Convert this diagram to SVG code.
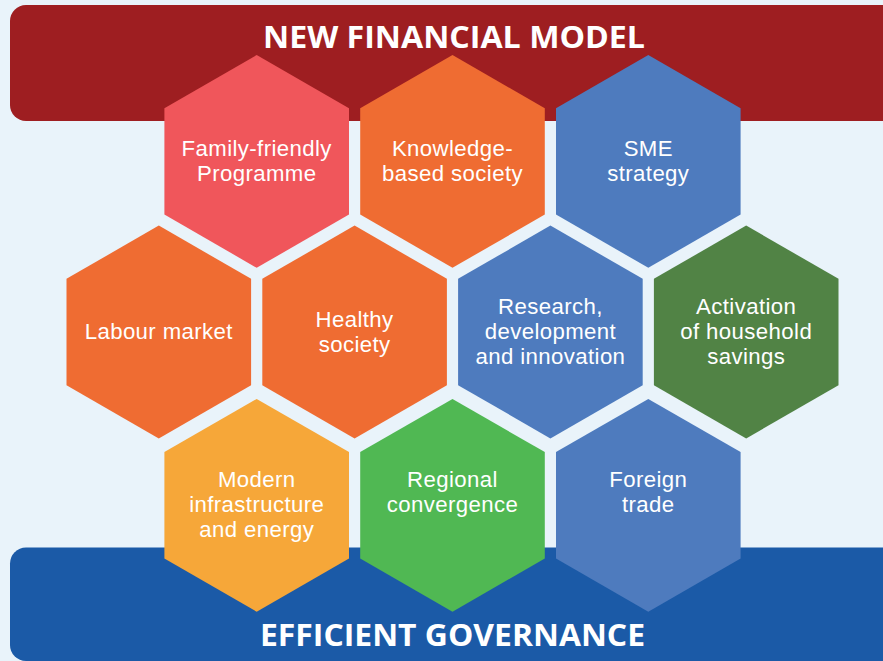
<svg xmlns="http://www.w3.org/2000/svg" width="883" height="661" viewBox="0 0 883 661">
<style>
.hx{font-family:"Liberation Sans",Arial,sans-serif;font-size:22.2px;letter-spacing:0.4px;fill:#ffffff;text-anchor:middle}
.ttl{font-family:"Open Sans","Liberation Sans",sans-serif;font-size:31px;font-weight:bold;fill:#ffffff;text-anchor:middle}
</style>
<defs>
<polygon id="hex" points="0,-106.4 92.3,-53.2 92.3,53.2 0,106.4 -92.3,53.2 -92.3,-53.2"/>
</defs>
<rect x="0" y="0" width="883" height="661" fill="#e9f3fa"/>
<g id="banner-top">
<rect x="10" y="5" width="890" height="116" rx="16" fill="#9e1e21"/>
<text class="ttl" x="454" y="48" textLength="382" lengthAdjust="spacingAndGlyphs">NEW FINANCIAL MODEL</text>
</g>
<g id="banner-bottom">
<rect x="10" y="547.5" width="890" height="113.5" rx="16" fill="#1b5aa7"/>
</g>
<g id="family">
<use href="#hex" transform="translate(256.7,161.4)" fill="#f0565b"/>
<text class="hx" x="256.7" y="156">Family-friendly<tspan x="256.7" dy="25">Programme</tspan></text>
</g>
<g id="knowledge">
<use href="#hex" transform="translate(452.5,161.4)" fill="#ef6c32"/>
<text class="hx" x="452.5" y="156">Knowledge-<tspan x="452.5" dy="25">based society</tspan></text>
</g>
<g id="sme">
<use href="#hex" transform="translate(648.3,161.4)" fill="#4e7bbe"/>
<text class="hx" x="648.3" y="156">SME<tspan x="648.3" dy="25">strategy</tspan></text>
</g>
<g id="labour">
<use href="#hex" transform="translate(158.8,332)" fill="#ef6c32"/>
<text class="hx" x="158.8" y="339.3">Labour market</text>
</g>
<g id="healthy">
<use href="#hex" transform="translate(354.6,332)" fill="#ef6c32"/>
<text class="hx" x="354.6" y="326.5">Healthy<tspan x="354.6" dy="25">society</tspan></text>
</g>
<g id="research">
<use href="#hex" transform="translate(550.4,332)" fill="#4e7bbe"/>
<text class="hx" x="550.4" y="314">Research,<tspan x="550.4" dy="25">development</tspan><tspan x="550.4" dy="25">and innovation</tspan></text>
</g>
<g id="activation">
<use href="#hex" transform="translate(746.2,332)" fill="#518345"/>
<text class="hx" x="746.2" y="314">Activation<tspan x="746.2" dy="25">of household</tspan><tspan x="746.2" dy="25">savings</tspan></text>
</g>
<g id="modern">
<use href="#hex" transform="translate(256.7,505.3)" fill="#f6a739"/>
<text class="hx" x="256.7" y="487.3">Modern<tspan x="256.7" dy="25">infrastructure</tspan><tspan x="256.7" dy="25">and energy</tspan></text>
</g>
<g id="regional">
<use href="#hex" transform="translate(452.5,505.3)" fill="#50b853"/>
<text class="hx" x="452.5" y="487.3">Regional<tspan x="452.5" dy="25">convergence</tspan></text>
</g>
<g id="foreign">
<use href="#hex" transform="translate(648.3,505.3)" fill="#4e7bbe"/>
<text class="hx" x="648.3" y="487.3">Foreign<tspan x="648.3" dy="25">trade</tspan></text>
</g>
<g id="title-bottom">
<text class="ttl" x="452.5" y="646" textLength="385" lengthAdjust="spacingAndGlyphs">EFFICIENT GOVERNANCE</text>
</g>
</svg>
